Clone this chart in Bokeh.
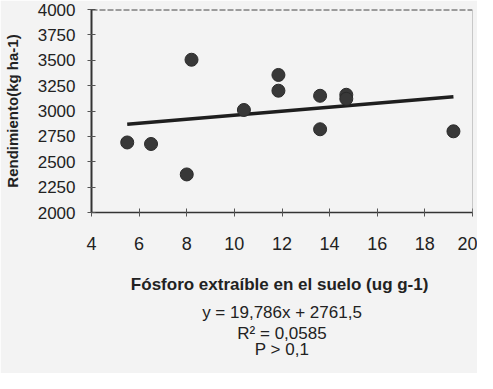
from bokeh.plotting import figure
from bokeh.models import Range1d, FixedTicker, Span, Title
from bokeh.embed import file_html
from bokeh.resources import INLINE

# Data
fosforo = [5.5, 6.5, 8.0, 8.2, 10.4, 11.85, 11.85, 13.6, 13.6, 14.7, 14.7, 19.2]
rendimiento = [2690, 2675, 2375, 3505, 3010, 3355, 3200, 3150, 2820, 3160, 3120, 2800]
slope = 19.786
intercept = 2761.5
x_ticks = [4, 6, 8, 10, 12, 14, 16, 18, 20]
y_ticks = [2000, 2250, 2500, 2750, 3000, 3250, 3500, 3750, 4000]
eq_lines = ["y = 19,786x + 2761,5", "R² = 0,0585", "P > 0,1"]

BG = "#f3f3f3"
FONT = "Liberation Sans"

p = figure(width=477, height=373, output_backend="svg", toolbar_location=None,
           x_range=Range1d(4, 20), y_range=Range1d(2000, 4000),
           min_border_left=89, min_border_right=5, min_border_top=9, min_border_bottom=161)
p.background_fill_color = BG
p.border_fill_color = BG
p.outline_line_color = None
p.xgrid.visible = False
p.ygrid.visible = False

p.xaxis.ticker = FixedTicker(ticks=x_ticks)
p.yaxis.ticker = FixedTicker(ticks=y_ticks)
for ax in (p.xaxis[0], p.yaxis[0]):
    ax.axis_line_color = "#333333"
    ax.major_tick_line_color = "#555555"
    ax.major_tick_in = 4
    ax.major_tick_out = 4
    ax.minor_tick_line_color = None
    ax.major_label_text_font = FONT
    ax.major_label_text_color = "#222222"
    ax.axis_label_text_font = FONT
    ax.axis_label_text_font_style = "bold"
    ax.axis_label_text_color = "#222222"

p.xaxis.axis_line_width = 1.5
p.yaxis.axis_line_width = 2
p.xaxis.major_label_text_font_size = "18px"
p.yaxis.major_label_text_font_size = "17px"
p.xaxis.major_label_standoff = 20
p.yaxis.major_label_standoff = 12
p.xaxis.axis_label = "Fósforo extraíble en el suelo  (ug g-1)"
p.yaxis.axis_label = "Rendimiento(kg ha-1)"
p.xaxis.axis_label_text_font_size = "17px"
p.yaxis.axis_label_text_font_size = "15px"
p.xaxis.axis_label_standoff = 22
p.yaxis.axis_label_standoff = 14

p.add_layout(Span(location=4000, dimension="width", line_color="#444444", line_width=2, line_dash="6 2"))
p.add_layout(Span(location=20, dimension="height", line_color="#999999", line_width=1))

xmin, xmax = min(fosforo), max(fosforo)
p.line([xmin, xmax], [slope * xmin + intercept, slope * xmax + intercept],
       line_color="#1e1e1e", line_width=3.5)
p.scatter(fosforo, rendimiento, size=13, fill_color="#383838", line_color="#2a2a2a")

title_standoffs = [8, -8, -1]
for t, s in zip(eq_lines, title_standoffs):
    p.add_layout(Title(text=t, align="center", text_font=FONT, text_font_size="17px",
                       text_font_style="normal", text_color="#222222",
                       standoff=s), "below")

open("out.html", "w").write(file_html(p, INLINE))
